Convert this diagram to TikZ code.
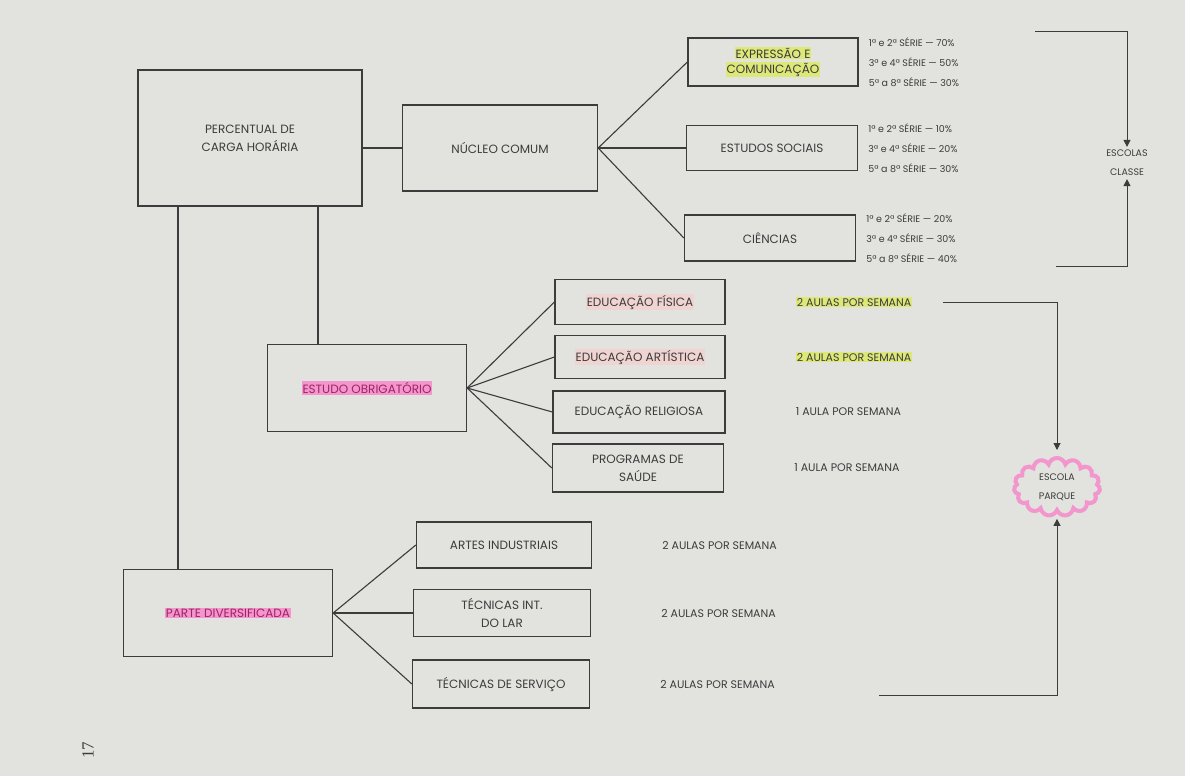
\documentclass[tikz,border=0pt]{standalone}
\usepackage{fontspec}
\setmainfont{Poppins}
\newfontfamily\serifa{Liberation Serif}
\usepackage{tikz}
\usetikzlibrary{positioning}
\usetikzlibrary{arrows.meta}
\usetikzlibrary{shapes.symbols}
\definecolor{papel}{RGB}{226,226,223}
\definecolor{tinta}{RGB}{60,60,60}
\definecolor{marcaverde}{RGB}{222,232,120}
\definecolor{marcarosa}{RGB}{242,150,205}
\definecolor{rosaclaro}{RGB}{240,212,210}
\definecolor{tintarosa}{RGB}{160,35,100}
\newcommand{\hlverde}[1]{{\fboxsep=1pt\colorbox{marcaverde}{#1}}}
\newcommand{\hlrosa}[1]{{\fboxsep=1pt\colorbox{marcarosa}{\color{tintarosa}#1}}}
\newcommand{\hlclaro}[1]{{\fboxsep=1pt\colorbox{rosaclaro}{#1}}}

\begin{document}
\begin{tikzpicture}[x=1pt,y=-1pt,
		box/.style={draw=tinta, line width=1.3pt, align=center, text=tinta, inner sep=2pt, font=\fontsize{12}{18}\selectfont},
		pct/.style={align=left, text=tinta, inner sep=0pt, font=\fontsize{9.5}{20}\selectfont},
		aulas/.style={text=tinta, inner sep=0pt, font=\fontsize{11}{13}\selectfont},
		seta/.style={draw=tinta, line width=1pt, -{Triangle[width=7pt,length=7pt]}},
		liga/.style={draw=tinta, line width=1.1pt}]
		\fill [papel] (0,0) rectangle (1185,776);

		% First Column
		\node [box, minimum width=224pt, minimum height=136pt] (percentual) at (250,138) {PERCENTUAL DE\\CARGA HORÁRIA};
		\node [box, minimum width=199pt, minimum height=87pt] (obrigatorio) at (367,388) {\hlrosa{ESTUDO OBRIGATÓRIO}};
		\node [box, minimum width=209pt, minimum height=87pt] (diversificada) at (228,613) {\hlrosa{PARTE DIVERSIFICADA}};

		% Nucleo comum
		\node [box, minimum width=195pt, minimum height=86pt] (nucleo) at (500,148) {NÚCLEO COMUM};
		\node [box, minimum width=170pt, minimum height=48pt] (expressao) at (773,62) {\hlverde{EXPRESSÃO E}\\[-3pt]\hlverde{COMUNICAÇÃO}};
		\node [box, minimum width=171pt, minimum height=45pt] (sociais) at (772,148) {ESTUDOS SOCIAIS};
		\node [box, minimum width=171pt, minimum height=46pt] (ciencias) at (770,238) {CIÊNCIAS};
		\node [pct, right=10pt of expressao] (pctexpressao) {1ª e 2ª SÉRIE — 70\%\\3ª e 4ª SÉRIE — 50\%\\5ª a 8ª SÉRIE — 30\%};
		\node [pct, right=10pt of sociais] (pctsociais) {1ª e 2ª SÉRIE — 10\%\\3ª e 4ª SÉRIE — 20\%\\5ª a 8ª SÉRIE — 30\%};
		\node [pct, right=10pt of ciencias] (pctciencias) {1ª e 2ª SÉRIE — 20\%\\3ª e 4ª SÉRIE — 30\%\\5ª a 8ª SÉRIE — 40\%};
		\node [text=tinta, align=center, inner sep=3pt, font=\fontsize{9.5}{19}\selectfont] (escolasclasse) at (1127,163) {ESCOLAS\\CLASSE};

		% Estudo obrigatorio
		\node [box, minimum width=170pt, minimum height=45pt] (edfisica) at (640,302) {\hlclaro{EDUCAÇÃO FÍSICA}};
		\node [box, minimum width=170pt, minimum height=43pt] (edartistica) at (640,357) {\hlclaro{EDUCAÇÃO ARTÍSTICA}};
		\node [box, minimum width=172pt, minimum height=42pt] (edreligiosa) at (639,412) {EDUCAÇÃO RELIGIOSA};
		\node [box, minimum width=171pt, minimum height=48pt] (saude) at (638,468) {PROGRAMAS DE\\SAÚDE};
		\node [aulas, right=70pt of edfisica] (aulasfisica) {\hlverde{2 AULAS POR SEMANA}};
		\node [aulas, right=70pt of edartistica] (aulasartistica) {\hlverde{2 AULAS POR SEMANA}};
		\node [aulas, right=70pt of edreligiosa] (aulasreligiosa) {1 AULA POR SEMANA};
		\node [aulas, right=70pt of saude] (aulassaude) {1 AULA POR SEMANA};
		\node [cloud, cloud puffs=15, aspect=1.4, draw=marcarosa, line width=4pt, minimum width=86pt, minimum height=58pt, align=center, text=tinta, font=\fontsize{9.5}{19}\selectfont] (escolaparque) at (1057,487) {ESCOLA\\PARQUE};

		% Parte diversificada
		\node [box, minimum width=175pt, minimum height=46pt] (artes) at (504,545) {ARTES INDUSTRIAIS};
		\node [box, minimum width=177pt, minimum height=47pt] (tecnicasint) at (502,613) {TÉCNICAS INT.\\DO LAR};
		\node [box, minimum width=177pt, minimum height=48pt] (servico) at (501,684) {TÉCNICAS DE SERVIÇO};
		\node [aulas, right=70pt of artes] (aulasartes) {2 AULAS POR SEMANA};
		\node [aulas, right=70pt of tecnicasint] (aulaslar) {2 AULAS POR SEMANA};
		\node [aulas, right=70pt of servico] (aulasservico) {2 AULAS POR SEMANA};

		\node [rotate=90, text=tinta, font=\serifa\fontsize{17}{18}\selectfont] (pagina) at (88,750) {17};

		% Connections
		\draw [liga] (nucleo.west -| percentual.east) -- (nucleo.west);
		\draw [liga] ([xshift=-72pt]percentual.south) -- ([xshift=-50pt]diversificada.north);
		\draw [liga] ([xshift=68pt]percentual.south) -- ([xshift=-49pt]obrigatorio.north);
		\draw [liga] (nucleo.east) -- (expressao.west); \draw [liga] (nucleo.east) -- (sociais.west); \draw [liga] (nucleo.east) -- (ciencias.west);
		\draw [liga] (obrigatorio.east) -- (edfisica.west); \draw [liga] (obrigatorio.east) -- (edartistica.west); \draw [liga] (obrigatorio.east) -- (edreligiosa.west); \draw [liga] (obrigatorio.east) -- (saude.west);
		\draw [liga] (diversificada.east) -- (artes.west); \draw [liga] (diversificada.east) -- (tecnicasint.west); \draw [liga] (diversificada.east) -- (servico.west);

		% Arrows to the schools
		\coordinate (classetopo) at (1035,32);
		\coordinate (classebase) at (1056,266);
		\draw [seta] (classetopo) -| (escolasclasse.north);
		\draw [seta] (classebase) -| (escolasclasse.south);
		\draw [seta, shorten >=6pt] ([xshift=31pt]aulasfisica.east) -| (escolaparque.north);
		\draw [seta, shorten >=5pt] ([xshift=104pt,yshift=-11pt]aulasservico.east) -| (escolaparque.south);
\end{tikzpicture}
\end{document}
